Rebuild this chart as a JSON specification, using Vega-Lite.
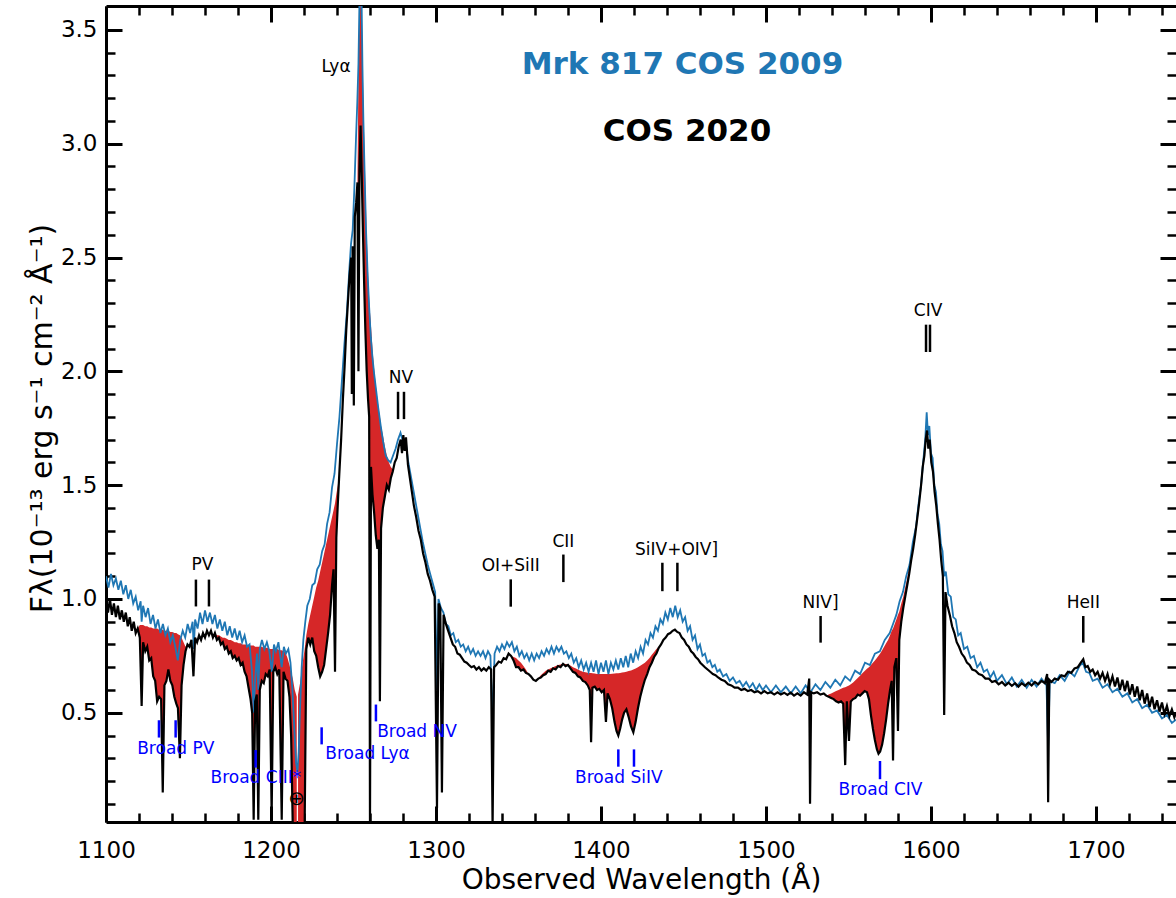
{
"$schema": "https://vega.github.io/schema/vega-lite/v6.json",
"width": 1070, "height": 816,
"autosize": {"type": "none"},
"padding": {"left": 106, "top": 6, "right": 0, "bottom": 76},
"config": {"view": {"stroke": null}, "font": "DejaVu Sans", "axis": {"grid": false, "zindex": 1, "labelFlush": false, "labelOverlap": false}},
"resolve": {"axis": {"x": "independent", "y": "independent"}},
"datasets": {
"blue": [
{"w":1100,"f":1.10},{"w":1101.5,"f":1.05},{"w":1103,"f":1.11},{"w":1104.5,"f":1.06},{"w":1106,"f":1.09},{"w":1107.5,"f":1.04},{"w":1109,"f":1.08},{"w":1110.5,"f":1.02},{"w":1112,"f":1.06},{"w":1113.5,"f":1.00},{"w":1115,"f":1.04},{"w":1116.5,"f":0.98},{"w":1118,"f":1.01},{"w":1119.5,"f":0.95},{"w":1121,"f":0.99},{"w":1121.6,"f":0.90},{"w":1122.5,"f":0.97},{"w":1124,"f":0.92},{"w":1125.5,"f":0.96},{"w":1127,"f":0.89},{"w":1128.5,"f":0.93},{"w":1130,"f":0.87},{"w":1131.5,"f":0.91},{"w":1133,"f":0.85},{"w":1134.5,"f":0.89},{"w":1136,"f":0.84},{"w":1137.5,"f":0.87},{"w":1139,"f":0.81},{"w":1140.5,"f":0.84},{"w":1142,"f":0.79},{"w":1143.5,"f":0.73},{"w":1145,"f":0.82},{"w":1146.5,"f":0.86},{"w":1148,"f":0.83},{"w":1149.5,"f":0.89},{"w":1151,"f":0.85},{"w":1152.5,"f":0.90},{"w":1153.2,"f":0.78},{"w":1154,"f":0.91},{"w":1155.5,"f":0.87},{"w":1157,"f":0.94},{"w":1158.5,"f":0.89},{"w":1160,"f":0.95},{"w":1161.5,"f":0.90},{"w":1163,"f":0.94},{"w":1164.5,"f":0.89},{"w":1166,"f":0.93},{"w":1167.5,"f":0.87},{"w":1169,"f":0.91},{"w":1170.5,"f":0.86},{"w":1172,"f":0.90},{"w":1173.5,"f":0.84},{"w":1175,"f":0.88},{"w":1176.5,"f":0.83},{"w":1178,"f":0.87},{"w":1179.5,"f":0.82},{"w":1181,"f":0.86},{"w":1182.5,"f":0.81},{"w":1184,"f":0.84},{"w":1185.5,"f":0.79},{"w":1187,"f":0.80},{"w":1188.5,"f":0.68},{"w":1189.5,"f":0.50},{"w":1190.5,"f":0.66},{"w":1191.5,"f":0.76},{"w":1192.3,"f":0.60},{"w":1193.2,"f":0.78},{"w":1194.5,"f":0.82},{"w":1196,"f":0.78},{"w":1197.5,"f":0.81},{"w":1199,"f":0.77},{"w":1200.5,"f":0.68},{"w":1201.8,"f":0.80},{"w":1203,"f":0.77},{"w":1204.5,"f":0.81},{"w":1206.5,"f":0.70},{"w":1207.8,"f":0.79},{"w":1209,"f":0.76},{"w":1210.5,"f":0.78},{"w":1211.8,"f":0.72},{"w":1213,"f":0.60},{"w":1214.2,"f":0.42},{"w":1215.2,"f":0.28},{"w":1216,"f":0.24},{"w":1216.8,"f":0.33},{"w":1217.6,"f":0.52},{"w":1218.6,"f":0.70},{"w":1219.6,"f":0.82},{"w":1220.8,"f":0.90},{"w":1222,"f":0.97},{"w":1223.5,"f":1.00},{"w":1225,"f":1.06},{"w":1226.5,"f":1.07},{"w":1228,"f":1.13},{"w":1229.5,"f":1.15},{"w":1231,"f":1.21},{"w":1232.5,"f":1.24},{"w":1234,"f":1.33},{"w":1235.5,"f":1.38},{"w":1237,"f":1.49},{"w":1238.5,"f":1.55},{"w":1240,"f":1.68},{"w":1241.5,"f":1.80},{"w":1243,"f":1.96},{"w":1244.5,"f":2.12},{"w":1246,"f":2.26},{"w":1247.5,"f":2.45},{"w":1248.5,"f":2.56},{"w":1249.5,"f":2.62},{"w":1250.5,"f":2.80},{"w":1251.5,"f":3.02},{"w":1252.3,"f":3.18},{"w":1253,"f":3.35},{"w":1253.6,"f":3.62},{"w":1254.2,"f":3.85},{"w":1254.8,"f":3.70},{"w":1255.4,"f":3.35},{"w":1256,"f":3.10},{"w":1256.8,"f":2.85},{"w":1257.6,"f":2.62},{"w":1258.6,"f":2.42},{"w":1259.5,"f":2.28},{"w":1260.5,"f":2.15},{"w":1261.5,"f":2.06},{"w":1262.5,"f":1.99},{"w":1263.5,"f":1.93},{"w":1265,"f":1.84},{"w":1266.5,"f":1.76},{"w":1268,"f":1.69},{"w":1269.5,"f":1.63},{"w":1271,"f":1.61},{"w":1272.5,"f":1.60},{"w":1274,"f":1.63},{"w":1275.5,"f":1.66},{"w":1277,"f":1.70},{"w":1278.5,"f":1.73},{"w":1280,"f":1.69},{"w":1281.5,"f":1.70},{"w":1283,"f":1.61},{"w":1284.5,"f":1.55},{"w":1286,"f":1.49},{"w":1287.5,"f":1.43},{"w":1289,"f":1.37},{"w":1290.5,"f":1.31},{"w":1292,"f":1.25},{"w":1293.5,"f":1.20},{"w":1295,"f":1.15},{"w":1296.5,"f":1.11},{"w":1298,"f":1.07},{"w":1299.5,"f":1.03},{"w":1300.6,"f":0.60},{"w":1301.5,"f":1.00},{"w":1303,"f":0.96},{"w":1304.5,"f":0.94},{"w":1306,"f":0.89},{"w":1307.5,"f":0.88},{"w":1309,"f":0.84},{"w":1310.5,"f":0.85},{"w":1312,"f":0.81},{"w":1313.5,"f":0.82},{"w":1315,"f":0.79},{"w":1316.5,"f":0.80},{"w":1318,"f":0.77},{"w":1319.5,"f":0.79},{"w":1321,"f":0.76},{"w":1322.5,"f":0.78},{"w":1324,"f":0.75},{"w":1325.5,"f":0.77},{"w":1327,"f":0.75},{"w":1328.5,"f":0.77},{"w":1330,"f":0.74},{"w":1331.5,"f":0.77},{"w":1333,"f":0.75},{"w":1334.3,"f":0.45},{"w":1335.5,"f":0.76},{"w":1337,"f":0.79},{"w":1338.5,"f":0.77},{"w":1340,"f":0.80},{"w":1341.5,"f":0.78},{"w":1343,"f":0.81},{"w":1344.5,"f":0.79},{"w":1346,"f":0.81},{"w":1347.5,"f":0.77},{"w":1349,"f":0.79},{"w":1350.5,"f":0.75},{"w":1352,"f":0.77},{"w":1353.5,"f":0.74},{"w":1355,"f":0.76},{"w":1356.5,"f":0.73},{"w":1358,"f":0.76},{"w":1359.5,"f":0.73},{"w":1361,"f":0.76},{"w":1362.5,"f":0.74},{"w":1364,"f":0.77},{"w":1365.5,"f":0.75},{"w":1367,"f":0.78},{"w":1368.5,"f":0.76},{"w":1370,"f":0.79},{"w":1371.5,"f":0.76},{"w":1373,"f":0.79},{"w":1374.5,"f":0.77},{"w":1376,"f":0.79},{"w":1377.5,"f":0.76},{"w":1379,"f":0.77},{"w":1380.5,"f":0.74},{"w":1382,"f":0.76},{"w":1383.5,"f":0.72},{"w":1385,"f":0.74},{"w":1386.5,"f":0.70},{"w":1388,"f":0.73},{"w":1389.5,"f":0.69},{"w":1391,"f":0.72},{"w":1392.5,"f":0.68},{"w":1394,"f":0.72},{"w":1395.5,"f":0.68},{"w":1397,"f":0.73},{"w":1398.5,"f":0.67},{"w":1400,"f":0.72},{"w":1401.5,"f":0.68},{"w":1403,"f":0.73},{"w":1404.5,"f":0.67},{"w":1406,"f":0.72},{"w":1407.5,"f":0.69},{"w":1409,"f":0.73},{"w":1410.5,"f":0.69},{"w":1412,"f":0.74},{"w":1413.5,"f":0.70},{"w":1415,"f":0.75},{"w":1416.5,"f":0.70},{"w":1418,"f":0.76},{"w":1419.5,"f":0.72},{"w":1421,"f":0.77},{"w":1422.5,"f":0.74},{"w":1424,"f":0.79},{"w":1425.5,"f":0.76},{"w":1427,"f":0.82},{"w":1428.5,"f":0.80},{"w":1430,"f":0.85},{"w":1431.5,"f":0.83},{"w":1433,"f":0.88},{"w":1434.5,"f":0.86},{"w":1436,"f":0.91},{"w":1437.5,"f":0.89},{"w":1439,"f":0.94},{"w":1440.5,"f":0.91},{"w":1442,"f":0.96},{"w":1443.5,"f":0.92},{"w":1445,"f":0.97},{"w":1446.5,"f":0.92},{"w":1448,"f":0.95},{"w":1449.5,"f":0.90},{"w":1451,"f":0.92},{"w":1452.5,"f":0.86},{"w":1454,"f":0.88},{"w":1455.5,"f":0.82},{"w":1457,"f":0.84},{"w":1458.5,"f":0.78},{"w":1460,"f":0.80},{"w":1461.5,"f":0.75},{"w":1463,"f":0.76},{"w":1464.5,"f":0.72},{"w":1466,"f":0.73},{"w":1467.5,"f":0.70},{"w":1469,"f":0.71},{"w":1470.5,"f":0.68},{"w":1472,"f":0.69},{"w":1474,"f":0.66},{"w":1476,"f":0.67},{"w":1478,"f":0.64},{"w":1480,"f":0.655},{"w":1482,"f":0.63},{"w":1484,"f":0.64},{"w":1486,"f":0.615},{"w":1488,"f":0.635},{"w":1490,"f":0.61},{"w":1492,"f":0.63},{"w":1494,"f":0.60},{"w":1496,"f":0.625},{"w":1498,"f":0.60},{"w":1500,"f":0.62},{"w":1503,"f":0.59},{"w":1506,"f":0.62},{"w":1509,"f":0.59},{"w":1512,"f":0.615},{"w":1515,"f":0.585},{"w":1518,"f":0.615},{"w":1521,"f":0.585},{"w":1524,"f":0.62},{"w":1527,"f":0.59},{"w":1530,"f":0.625},{"w":1533,"f":0.60},{"w":1536,"f":0.635},{"w":1539,"f":0.61},{"w":1542,"f":0.645},{"w":1545,"f":0.62},{"w":1548,"f":0.66},{"w":1551,"f":0.64},{"w":1554,"f":0.685},{"w":1557,"f":0.67},{"w":1560,"f":0.72},{"w":1563,"f":0.71},{"w":1566,"f":0.76},{"w":1569,"f":0.77},{"w":1572,"f":0.82},{"w":1575,"f":0.85},{"w":1577,"f":0.89},{"w":1579,"f":0.93},{"w":1581,"f":0.99},{"w":1583,"f":1.03},{"w":1585,"f":1.10},{"w":1587,"f":1.15},{"w":1589,"f":1.25},{"w":1591,"f":1.32},{"w":1592.5,"f":1.42},{"w":1594,"f":1.50},{"w":1595.5,"f":1.62},{"w":1596.5,"f":1.70},{"w":1597.4,"f":1.82},{"w":1598.2,"f":1.72},{"w":1599,"f":1.76},{"w":1600,"f":1.64},{"w":1601,"f":1.62},{"w":1602,"f":1.50},{"w":1603,"f":1.47},{"w":1604,"f":1.37},{"w":1605,"f":1.33},{"w":1606,"f":1.24},{"w":1607,"f":1.21},{"w":1608,"f":1.10},{"w":1609,"f":1.12},{"w":1610.5,"f":1.02},{"w":1612,"f":1.01},{"w":1613.5,"f":0.92},{"w":1615,"f":0.91},{"w":1616.5,"f":0.84},{"w":1618,"f":0.85},{"w":1620,"f":0.78},{"w":1622,"f":0.79},{"w":1624,"f":0.74},{"w":1626,"f":0.75},{"w":1628,"f":0.70},{"w":1630,"f":0.72},{"w":1632,"f":0.68},{"w":1634,"f":0.69},{"w":1636,"f":0.655},{"w":1638,"f":0.68},{"w":1640,"f":0.64},{"w":1643,"f":0.665},{"w":1646,"f":0.625},{"w":1649,"f":0.655},{"w":1652,"f":0.615},{"w":1655,"f":0.645},{"w":1658,"f":0.61},{"w":1661,"f":0.645},{"w":1664,"f":0.615},{"w":1667,"f":0.65},{"w":1670,"f":0.62},{"w":1671,"f":0.35},{"w":1672,"f":0.64},{"w":1675,"f":0.63},{"w":1678,"f":0.665},{"w":1681,"f":0.64},{"w":1684,"f":0.68},{"w":1687,"f":0.66},{"w":1690,"f":0.705},{"w":1692,"f":0.72},{"w":1694,"f":0.68},{"w":1696,"f":0.675},{"w":1698,"f":0.64},{"w":1701,"f":0.65},{"w":1704,"f":0.61},{"w":1707,"f":0.625},{"w":1710,"f":0.59},{"w":1713,"f":0.605},{"w":1716,"f":0.57},{"w":1719,"f":0.585},{"w":1722,"f":0.545},{"w":1725,"f":0.56},{"w":1728,"f":0.52},{"w":1731,"f":0.535},{"w":1734,"f":0.50},{"w":1737,"f":0.51},{"w":1740,"f":0.475},{"w":1743,"f":0.49},{"w":1746,"f":0.455},{"w":1748.5,"f":0.47}
],
"black": [
{"w":1100,"f":0.99},{"w":1101.2,"f":0.94},{"w":1102.4,"f":1.00},{"w":1103.6,"f":0.93},{"w":1104.8,"f":0.98},{"w":1106,"f":0.92},{"w":1107.2,"f":0.97},{"w":1108.4,"f":0.91},{"w":1109.6,"f":0.95},{"w":1110.8,"f":0.90},{"w":1112,"f":0.94},{"w":1113.2,"f":0.88},{"w":1114.4,"f":0.92},{"w":1115.6,"f":0.86},{"w":1116.8,"f":0.90},{"w":1118,"f":0.85},
{"w":1119.2,"f":0.87,"m":0.87,"s":1},{"w":1120.5,"f":0.83,"m":0.885,"s":1},{"w":1121.6,"f":0.53,"m":0.885,"s":1},{"w":1122.5,"f":0.81,"m":0.885,"s":1},{"w":1123.8,"f":0.77,"m":0.88,"s":1},{"w":1125,"f":0.79,"m":0.88,"s":1},{"w":1126.2,"f":0.73,"m":0.875,"s":1},{"w":1127.4,"f":0.74,"m":0.875,"s":1},{"w":1128.6,"f":0.66,"m":0.87,"s":1},{"w":1129.8,"f":0.64,"m":0.87,"s":1},{"w":1131,"f":0.55,"m":0.87,"s":1},{"w":1132.2,"f":0.57,"m":0.865,"s":1},{"w":1133.4,"f":0.56,"m":0.865,"s":1},{"w":1134.4,"f":0.15,"m":0.865,"s":1},{"w":1135.4,"f":0.62,"m":0.86,"s":1},{"w":1136.6,"f":0.64,"m":0.86,"s":1},{"w":1137.8,"f":0.69,"m":0.86,"s":1},{"w":1139,"f":0.64,"m":0.855,"s":1},{"w":1140.2,"f":0.62,"m":0.855,"s":1},{"w":1141.4,"f":0.57,"m":0.85,"s":1},{"w":1142.6,"f":0.54,"m":0.85,"s":1},{"w":1143.6,"f":0.52,"m":0.845,"s":1},{"w":1144.8,"f":0.30,"m":0.84,"s":1},{"w":1145.8,"f":0.62,"m":0.83,"s":1},{"w":1147,"f":0.71,"m":0.81,"s":1},{"w":1148.2,"f":0.77,"m":0.79,"s":1},{"w":1149.4,"f":0.80,"m":0.80,"s":1},
{"w":1150.6,"f":0.79},{"w":1151.8,"f":0.82},{"w":1153,"f":0.66},{"w":1154,"f":0.83},{"w":1155.2,"f":0.81},{"w":1156.4,"f":0.84},{"w":1157.6,"f":0.82},{"w":1158.8,"f":0.85},{"w":1160,"f":0.83},{"w":1161.2,"f":0.86},{"w":1162.4,"f":0.84},{"w":1163.6,"f":0.86},{"w":1164.8,"f":0.83},
{"w":1166,"f":0.85,"m":0.85,"s":2},{"w":1167.2,"f":0.82,"m":0.84,"s":2},{"w":1168.4,"f":0.83,"m":0.84,"s":2},{"w":1169.6,"f":0.80,"m":0.835,"s":2},{"w":1170.8,"f":0.81,"m":0.83,"s":2},{"w":1172,"f":0.78,"m":0.83,"s":2},{"w":1173.2,"f":0.79,"m":0.825,"s":2},{"w":1174.4,"f":0.76,"m":0.82,"s":2},{"w":1175.6,"f":0.77,"m":0.82,"s":2},{"w":1176.8,"f":0.74,"m":0.815,"s":2},{"w":1178,"f":0.75,"m":0.81,"s":2},{"w":1179.2,"f":0.73,"m":0.81,"s":2},{"w":1180.4,"f":0.74,"m":0.805,"s":2},{"w":1181.6,"f":0.71,"m":0.805,"s":2},{"w":1182.8,"f":0.72,"m":0.80,"s":2},{"w":1184,"f":0.68,"m":0.80,"s":2},{"w":1185.2,"f":0.66,"m":0.80,"s":2},{"w":1186.4,"f":0.61,"m":0.795,"s":2},{"w":1187.6,"f":0.56,"m":0.795,"s":2},{"w":1188.6,"f":0.50,"m":0.795,"s":2},{"w":1189.5,"f":0.03,"m":0.795,"s":2},{"w":1190.4,"f":0.55,"m":0.79,"s":2},{"w":1191.4,"f":0.58,"m":0.79,"s":2},{"w":1192.3,"f":0.03,"m":0.79,"s":2},{"w":1193.2,"f":0.60,"m":0.79,"s":2},{"w":1194.4,"f":0.64,"m":0.79,"s":2},{"w":1195.6,"f":0.63,"m":0.785,"s":2},{"w":1196.8,"f":0.67,"m":0.785,"s":2},{"w":1198,"f":0.66,"m":0.785,"s":2},{"w":1199.2,"f":0.69,"m":0.78,"s":2},{"w":1200.4,"f":0.05,"m":0.78,"s":2},{"w":1201.4,"f":0.68,"m":0.78,"s":2},{"w":1202.6,"f":0.70,"m":0.78,"s":2},{"w":1203.8,"f":0.67,"m":0.78,"s":2},{"w":1205,"f":0.69,"m":0.775,"s":2},{"w":1206.5,"f":0.03,"m":0.775,"s":2},{"w":1207.6,"f":0.68,"m":0.77,"s":2},{"w":1208.8,"f":0.65,"m":0.765,"s":2},{"w":1210,"f":0.64,"m":0.74,"s":2},{"w":1211.2,"f":0.57,"m":0.71,"s":2},{"w":1212.2,"f":0.40,"m":0.68,"s":2},{"w":1213.2,"f":0.0,"m":0.65,"s":2},{"w":1214.4,"f":0.0,"m":0.60,"s":2},{"w":1215.6,"f":0.0,"m":0.57,"s":2},
{"w":1216.4,"f":0.0,"m":0.58,"s":3},{"w":1217.6,"f":0.0,"m":0.63,"s":3},{"w":1218.8,"f":0.0,"m":0.70,"s":3},{"w":1220.4,"f":0.0,"m":0.78,"s":3},{"w":1221.4,"f":0.78,"m":0.84,"s":3},{"w":1222.6,"f":0.83,"m":0.89,"s":3},{"w":1223.8,"f":0.80,"m":0.93,"s":3},{"w":1225,"f":0.83,"m":0.97,"s":3},{"w":1226.2,"f":0.77,"m":1.01,"s":3},{"w":1227.4,"f":0.75,"m":1.05,"s":3},{"w":1228.6,"f":0.70,"m":1.08,"s":3},{"w":1229.8,"f":0.66,"m":1.12,"s":3},{"w":1231,"f":0.68,"m":1.16,"s":3},{"w":1232.2,"f":0.71,"m":1.20,"s":3},{"w":1233.4,"f":0.78,"m":1.24,"s":3},{"w":1234.6,"f":0.85,"m":1.28,"s":3},{"w":1235.8,"f":0.93,"m":1.32,"s":3},{"w":1237,"f":1.06,"m":1.36,"s":3},{"w":1237.9,"f":1.13,"m":1.39,"s":3},{"w":1238.8,"f":0.68,"m":1.42,"s":3},{"w":1239.6,"f":1.27,"m":1.46,"s":3},{"w":1240.5,"f":1.42,"m":1.50,"s":3},{"w":1241.4,"f":1.55,"m":1.55,"s":3},
{"w":1242.5,"f":1.70},{"w":1243.6,"f":1.88},{"w":1244.6,"f":2.02},{"w":1245.6,"f":2.18},{"w":1246.6,"f":2.30},{"w":1247.6,"f":2.42},{"w":1248.6,"f":2.50},{"w":1249,"f":1.90},{"w":1249.5,"f":2.55},{"w":1250.2,"f":1.85},{"w":1250.8,"f":2.68},{"w":1251.6,"f":2.74},
{"w":1252.4,"f":2.83,"m":2.83,"s":4},{"w":1253,"f":2.0,"m":3.3,"s":4},{"w":1253.6,"f":2.88,"m":3.6,"s":4},{"w":1254.3,"f":3.08,"m":3.9,"s":4},{"w":1255,"f":2.86,"m":3.6,"s":4},{"w":1255.7,"f":2.62,"m":3.3,"s":4},{"w":1256.4,"f":2.40,"m":3.05,"s":4},{"w":1257.2,"f":2.18,"m":2.82,"s":4},{"w":1258,"f":2.0,"m":2.60,"s":4},{"w":1258.8,"f":1.88,"m":2.44,"s":4},{"w":1259.5,"f":1.80,"m":2.32,"s":4},{"w":1260,"f":0.0,"m":2.26,"s":4},{"w":1260.6,"f":1.58,"m":2.20,"s":4},{"w":1261.5,"f":1.46,"m":2.10,"s":4},{"w":1262.5,"f":1.38,"m":2.01,"s":4},{"w":1263.5,"f":1.28,"m":1.94,"s":4},{"w":1264.5,"f":1.22,"m":1.88,"s":4},{"w":1265.4,"f":1.26,"m":1.83,"s":4},{"w":1266,"f":0.55,"m":1.80,"s":4},{"w":1266.7,"f":1.31,"m":1.76,"s":4},{"w":1267.8,"f":1.40,"m":1.72,"s":4},{"w":1269,"f":1.45,"m":1.67,"s":4},{"w":1270.2,"f":1.50,"m":1.63,"s":4},{"w":1271.4,"f":1.48,"m":1.60,"s":4},{"w":1272.6,"f":1.53,"m":1.58,"s":4},{"w":1273.8,"f":1.56,"m":1.57,"s":4},{"w":1275,"f":1.60,"m":1.60,"s":4},
{"w":1276.2,"f":1.62},{"w":1277.4,"f":1.67},{"w":1278.6,"f":1.70},{"w":1279.4,"f":1.64},{"w":1280.2,"f":1.72},{"w":1281,"f":1.65},{"w":1281.8,"f":1.71},{"w":1283,"f":1.59},{"w":1284.2,"f":1.53},{"w":1285.4,"f":1.47},{"w":1286.6,"f":1.41},{"w":1288,"f":1.36},{"w":1289.4,"f":1.30},{"w":1290.8,"f":1.26},{"w":1292.2,"f":1.20},{"w":1293.6,"f":1.16},{"w":1295,"f":1.11},{"w":1296.4,"f":1.08},{"w":1297.8,"f":1.04},{"w":1299.2,"f":1.01},{"w":1300.6,"f":0.08},{"w":1301.6,"f":0.98},{"w":1302.6,"f":0.96},{"w":1303.6,"f":0.15},{"w":1304.6,"f":0.93},{"w":1306,"f":0.89},{"w":1307.4,"f":0.86},{"w":1308.8,"f":0.83},{"w":1310.2,"f":0.80},{"w":1311.6,"f":0.79},{"w":1313,"f":0.76},{"w":1314.4,"f":0.755},{"w":1315.8,"f":0.74},{"w":1317.2,"f":0.725},{"w":1318.6,"f":0.72},{"w":1320,"f":0.71},{"w":1321.5,"f":0.70},{"w":1323,"f":0.705},{"w":1324.5,"f":0.69},{"w":1326,"f":0.70},{"w":1327.5,"f":0.685},{"w":1329,"f":0.695},{"w":1330.5,"f":0.685},{"w":1332,"f":0.70},{"w":1333.4,"f":0.69},{"w":1334.3,"f":0.0},{"w":1335.2,"f":0.70},{"w":1336.5,"f":0.71},{"w":1338,"f":0.725},{"w":1339.5,"f":0.72},{"w":1341,"f":0.74},{"w":1342.5,"f":0.735},{"w":1344,"f":0.76},
{"w":1345.5,"f":0.75,"m":0.75,"s":5},{"w":1347,"f":0.73,"m":0.745,"s":5},{"w":1348.5,"f":0.70,"m":0.74,"s":5},{"w":1350,"f":0.70,"m":0.73,"s":5},{"w":1351.5,"f":0.685,"m":0.72,"s":5},{"w":1353,"f":0.69,"m":0.705,"s":5},{"w":1354.5,"f":0.675,"m":0.69,"s":5},{"w":1356,"f":0.67,"m":0.67,"s":5},
{"w":1357.5,"f":0.66},{"w":1359,"f":0.645},{"w":1360.5,"f":0.64},
{"w":1362,"f":0.65,"m":0.65,"s":6},{"w":1363.5,"f":0.655,"m":0.665,"s":6},{"w":1365,"f":0.665,"m":0.675,"s":6},{"w":1366.5,"f":0.67,"m":0.685,"s":6},{"w":1368,"f":0.685,"m":0.69,"s":6},{"w":1369.5,"f":0.68,"m":0.695,"s":6},{"w":1371,"f":0.695,"m":0.70,"s":6},{"w":1372.5,"f":0.69,"m":0.705,"s":6},{"w":1374,"f":0.705,"m":0.71,"s":6},{"w":1375.5,"f":0.70,"m":0.712,"s":6},{"w":1377,"f":0.715,"m":0.715,"s":6},{"w":1378.5,"f":0.705,"m":0.714,"s":6},{"w":1380,"f":0.71,"m":0.712,"s":6},{"w":1381.5,"f":0.695,"m":0.708,"s":6},{"w":1383,"f":0.68,"m":0.70,"s":6},{"w":1384.5,"f":0.675,"m":0.695,"s":6},{"w":1386,"f":0.66,"m":0.69,"s":6},{"w":1387.5,"f":0.655,"m":0.685,"s":6},{"w":1389,"f":0.64,"m":0.68,"s":6},{"w":1390.5,"f":0.635,"m":0.678,"s":6},{"w":1392,"f":0.62,"m":0.676,"s":6},{"w":1393.2,"f":0.60,"m":0.675,"s":6},{"w":1394,"f":0.37,"m":0.675,"s":6},{"w":1394.8,"f":0.61,"m":0.674,"s":6},{"w":1396.2,"f":0.615,"m":0.672,"s":6},{"w":1397.6,"f":0.60,"m":0.67,"s":6},{"w":1399,"f":0.605,"m":0.67,"s":6},{"w":1400.4,"f":0.59,"m":0.67,"s":6},{"w":1401.8,"f":0.60,"m":0.67,"s":6},{"w":1403,"f":0.46,"m":0.67,"s":6},{"w":1404,"f":0.585,"m":0.67,"s":6},{"w":1405.4,"f":0.56,"m":0.67,"s":6},{"w":1406.8,"f":0.52,"m":0.671,"s":6},{"w":1408.2,"f":0.46,"m":0.672,"s":6},{"w":1409.4,"f":0.42,"m":0.673,"s":6},{"w":1410.5,"f":0.40,"m":0.674,"s":6},{"w":1411.6,"f":0.43,"m":0.675,"s":6},{"w":1412.8,"f":0.47,"m":0.677,"s":6},{"w":1414,"f":0.50,"m":0.678,"s":6},{"w":1415.4,"f":0.515,"m":0.68,"s":6},{"w":1416.8,"f":0.48,"m":0.683,"s":6},{"w":1418.2,"f":0.44,"m":0.686,"s":6},{"w":1419.6,"f":0.414,"m":0.69,"s":6},{"w":1421,"f":0.46,"m":0.694,"s":6},{"w":1422.4,"f":0.52,"m":0.70,"s":6},{"w":1423.8,"f":0.57,"m":0.706,"s":6},{"w":1425.2,"f":0.61,"m":0.713,"s":6},{"w":1426.6,"f":0.645,"m":0.72,"s":6},{"w":1428,"f":0.67,"m":0.73,"s":6},{"w":1429.4,"f":0.70,"m":0.74,"s":6},{"w":1430.8,"f":0.72,"m":0.755,"s":6},{"w":1432.2,"f":0.745,"m":0.767,"s":6},{"w":1433.6,"f":0.76,"m":0.78,"s":6},{"w":1435,"f":0.785,"m":0.79,"s":6},{"w":1436.4,"f":0.80,"m":0.80,"s":6},
{"w":1437.8,"f":0.82},{"w":1439.2,"f":0.83},{"w":1440.6,"f":0.845},{"w":1442,"f":0.85},{"w":1443.4,"f":0.86},{"w":1444.8,"f":0.865},{"w":1446.2,"f":0.855},{"w":1447.6,"f":0.85},{"w":1449,"f":0.83},{"w":1450.4,"f":0.82},{"w":1451.8,"f":0.80},{"w":1453.2,"f":0.79},{"w":1454.6,"f":0.77},{"w":1456,"f":0.76},{"w":1457.4,"f":0.745},{"w":1458.8,"f":0.735},{"w":1460.2,"f":0.72},{"w":1461.6,"f":0.71},{"w":1463,"f":0.70},{"w":1464.6,"f":0.69},{"w":1466.2,"f":0.68},{"w":1467.8,"f":0.67},{"w":1469.4,"f":0.665},{"w":1471,"f":0.655},{"w":1473,"f":0.645},{"w":1475,"f":0.64},{"w":1477,"f":0.625},{"w":1479,"f":0.62},{"w":1481,"f":0.61},{"w":1483,"f":0.61},{"w":1485,"f":0.60},{"w":1487,"f":0.605},{"w":1489,"f":0.595},{"w":1491,"f":0.60},{"w":1493,"f":0.59},{"w":1495,"f":0.595},{"w":1497,"f":0.585},{"w":1499,"f":0.595},{"w":1501,"f":0.585},{"w":1503,"f":0.59},{"w":1505,"f":0.58},{"w":1507,"f":0.59},{"w":1509,"f":0.58},{"w":1511,"f":0.588},{"w":1513,"f":0.578},{"w":1515,"f":0.588},{"w":1517,"f":0.575},{"w":1519,"f":0.585},{"w":1521,"f":0.575},{"w":1523,"f":0.59},{"w":1525,"f":0.58},{"w":1526.2,"f":0.65},{"w":1526.7,"f":0.10},{"w":1527.4,"f":0.59},{"w":1529,"f":0.585},{"w":1531,"f":0.59},{"w":1533,"f":0.58},{"w":1535,"f":0.585},
{"w":1536.5,"f":0.575,"m":0.575,"s":7},{"w":1538,"f":0.57,"m":0.58,"s":7},{"w":1539.5,"f":0.565,"m":0.585,"s":7},{"w":1541,"f":0.56,"m":0.59,"s":7},{"w":1542.5,"f":0.55,"m":0.595,"s":7},{"w":1544,"f":0.545,"m":0.60,"s":7},{"w":1545.5,"f":0.55,"m":0.605,"s":7},{"w":1546.8,"f":0.54,"m":0.61,"s":7},{"w":1548,"f":0.27,"m":0.612,"s":7},{"w":1549,"f":0.55,"m":0.615,"s":7},{"w":1550.3,"f":0.376,"m":0.62,"s":7},{"w":1551.4,"f":0.55,"m":0.625,"s":7},{"w":1552.8,"f":0.56,"m":0.633,"s":7},{"w":1554.2,"f":0.565,"m":0.643,"s":7},{"w":1555.6,"f":0.58,"m":0.653,"s":7},{"w":1557,"f":0.575,"m":0.663,"s":7},{"w":1558.4,"f":0.585,"m":0.673,"s":7},{"w":1559.8,"f":0.595,"m":0.683,"s":7},{"w":1561.2,"f":0.59,"m":0.693,"s":7},{"w":1562.4,"f":0.56,"m":0.70,"s":7},{"w":1563.6,"f":0.49,"m":0.71,"s":7},{"w":1564.8,"f":0.43,"m":0.72,"s":7},{"w":1566,"f":0.38,"m":0.73,"s":7},{"w":1567.2,"f":0.34,"m":0.74,"s":7},{"w":1568.2,"f":0.32,"m":0.75,"s":7},{"w":1569.2,"f":0.33,"m":0.76,"s":7},{"w":1570.4,"f":0.36,"m":0.775,"s":7},{"w":1571.6,"f":0.41,"m":0.79,"s":7},{"w":1572.8,"f":0.47,"m":0.805,"s":7},{"w":1574,"f":0.54,"m":0.82,"s":7},{"w":1575.2,"f":0.60,"m":0.84,"s":7},{"w":1576.2,"f":0.64,"m":0.86,"s":7},{"w":1577,"f":0.29,"m":0.87,"s":7},{"w":1577.8,"f":0.70,"m":0.885,"s":7},{"w":1579,"f":0.74,"m":0.91,"s":7},{"w":1580,"f":0.42,"m":0.93,"s":7},{"w":1580.8,"f":0.82,"m":0.945,"s":7},{"w":1582,"f":0.90,"m":0.98,"s":7},{"w":1583.2,"f":0.96,"m":1.01,"s":7},{"w":1584.4,"f":1.01,"m":1.05,"s":7},{"w":1585.6,"f":1.06,"m":1.09,"s":7},{"w":1586.8,"f":1.11,"m":1.14,"s":7},{"w":1588,"f":1.17,"m":1.19,"s":7},{"w":1589.2,"f":1.22,"m":1.24,"s":7},{"w":1590.4,"f":1.28,"m":1.29,"s":7},{"w":1591.6,"f":1.35,"m":1.35,"s":7},
{"w":1592.8,"f":1.42},{"w":1594,"f":1.50},{"w":1595,"f":1.58},{"w":1596,"f":1.63},{"w":1596.8,"f":1.70},{"w":1597.6,"f":1.74},{"w":1598.4,"f":1.66},{"w":1599.2,"f":1.70},{"w":1600.2,"f":1.60},{"w":1601.2,"f":1.56},{"w":1602.2,"f":1.47},{"w":1603.2,"f":1.41},{"w":1604.2,"f":1.33},{"w":1605.2,"f":1.26},{"w":1606.2,"f":1.17},{"w":1607.2,"f":1.10},{"w":1608,"f":0.49},{"w":1608.8,"f":1.03},{"w":1610,"f":0.97},{"w":1611.4,"f":0.93},{"w":1612.8,"f":0.88},{"w":1614.2,"f":0.85},{"w":1615.6,"f":0.81},{"w":1617,"f":0.79},{"w":1618.6,"f":0.76},{"w":1620.2,"f":0.745},{"w":1621.8,"f":0.72},{"w":1623.4,"f":0.71},{"w":1625,"f":0.69},{"w":1627,"f":0.685},{"w":1629,"f":0.67},{"w":1631,"f":0.665},{"w":1633,"f":0.65},{"w":1635,"f":0.65},{"w":1637,"f":0.635},{"w":1639,"f":0.64},{"w":1641,"f":0.625},{"w":1643,"f":0.635},{"w":1645,"f":0.62},{"w":1647,"f":0.632},{"w":1649,"f":0.618},{"w":1651,"f":0.63},{"w":1653,"f":0.615},{"w":1655,"f":0.63},{"w":1657,"f":0.618},{"w":1659,"f":0.632},{"w":1661,"f":0.62},{"w":1663,"f":0.635},{"w":1665,"f":0.625},{"w":1667,"f":0.64},{"w":1669,"f":0.63},{"w":1670.4,"f":0.67},{"w":1671,"f":0.107},{"w":1671.7,"f":0.645},{"w":1673,"f":0.635},{"w":1675,"f":0.65},{"w":1677,"f":0.645},{"w":1679,"f":0.665},{"w":1681,"f":0.66},{"w":1683,"f":0.68},{"w":1685,"f":0.675},{"w":1687,"f":0.695},{"w":1689,"f":0.70},{"w":1690.8,"f":0.72},{"w":1692.3,"f":0.735},{"w":1693.6,"f":0.70},{"w":1695,"f":0.705},{"w":1696.5,"f":0.68},{"w":1698,"f":0.69},{"w":1699.5,"f":0.665},{"w":1701,"f":0.68},{"w":1702.5,"f":0.65},{"w":1704,"f":0.675},{"w":1705.5,"f":0.64},{"w":1707,"f":0.67},{"w":1708.5,"f":0.625},{"w":1710,"f":0.66},{"w":1711.5,"f":0.615},{"w":1713,"f":0.655},{"w":1714.5,"f":0.60},{"w":1716,"f":0.645},{"w":1717.5,"f":0.595},{"w":1719,"f":0.64},{"w":1720.5,"f":0.58},{"w":1722,"f":0.625},{"w":1723.5,"f":0.57},{"w":1725,"f":0.615},{"w":1726.5,"f":0.555},{"w":1728,"f":0.60},{"w":1729.5,"f":0.54},{"w":1731,"f":0.585},{"w":1732.5,"f":0.525},{"w":1734,"f":0.57},{"w":1735.5,"f":0.515},{"w":1737,"f":0.555},{"w":1738.5,"f":0.505},{"w":1740,"f":0.545},{"w":1741.5,"f":0.495},{"w":1743,"f":0.53},{"w":1744.5,"f":0.485},{"w":1746,"f":0.515},{"w":1747.5,"f":0.48},{"w":1748.5,"f":0.50}
],
"kticks": [
{"w":1154.5,"a":1.085,"b":0.967},{"w":1162.4,"a":1.085,"b":0.967},
{"w":1277.0,"a":1.91,"b":1.79},{"w":1280.6,"a":1.91,"b":1.79},
{"w":1345.3,"a":1.086,"b":0.966},
{"w":1377.2,"a":1.195,"b":1.074},
{"w":1437.2,"a":1.159,"b":1.034},{"w":1446.3,"a":1.159,"b":1.034},
{"w":1533.1,"a":0.925,"b":0.808},
{"w":1597.0,"a":2.205,"b":2.085},{"w":1599.4,"a":2.205,"b":2.085},
{"w":1692.3,"a":0.925,"b":0.808}
],
"uticks": [
{"w":1132.1,"a":0.467,"b":0.391},{"w":1142.2,"a":0.467,"b":0.391},
{"w":1190.7,"a":0.336,"b":0.259},
{"w":1230.7,"a":0.436,"b":0.361},
{"w":1263.6,"a":0.536,"b":0.462},
{"w":1410.5,"a":0.339,"b":0.263},{"w":1420.0,"a":0.339,"b":0.263},
{"w":1569.1,"a":0.288,"b":0.208}
],
"klabels": [
{"w":1158.5,"f":1.147,"t":"PV"},
{"w":1239.4,"f":3.339,"t":"Lyα"},
{"w":1278.8,"f":1.97,"t":"NV"},
{"w":1345.3,"f":1.144,"t":"OI+SiII"},
{"w":1377.2,"f":1.249,"t":"CII"},
{"w":1445.8,"f":1.214,"t":"SiIV+OIV]"},
{"w":1533.1,"f":0.98,"t":"NIV]"},
{"w":1598.2,"f":2.263,"t":"CIV"},
{"w":1692.3,"f":0.98,"t":"HeII"}
],
"earth": [
{"w":1215.6,"f":0.123,"t":"⊕"}
],
"ulabels": [
{"w":1142.3,"f":0.342,"t":"Broad PV"},
{"w":1190.8,"f":0.212,"t":"Broad CIII*"},
{"w":1258.5,"f":0.317,"t":"Broad Lyα"},
{"w":1288.5,"f":0.414,"t":"Broad NV"},
{"w":1410.8,"f":0.215,"t":"Broad SiIV"},
{"w":1569.4,"f":0.161,"t":"Broad CIV"}
],
"titles": [
{"w":1449.4,"f":3.346,"t":"Mrk 817 COS 2009","c":"2009"},
{"w":1452.1,"f":3.052,"t":"COS 2020","c":"2020"}
]
},
"layer": [
{
"data": {"name": "black"},
"transform": [{"filter": "isValid(datum.m)"}],
"mark": {"type": "area", "color": "#d62728", "clip": true, "opacity": 1},
"encoding": {
"x": {"field": "w", "type": "quantitative", "scale": {"domain": [1100, 1748.5], "nice": false, "zero": false},
 "axis": {"orient": "bottom", "values": [1100,1200,1300,1400,1500,1600,1700], "format": "d", "ticks": false, "domain": true, "domainWidth": 3, "domainColor": "black", "labelFontSize": 23, "labelPadding": 17, "labelColor": "black", "labelFont": "DejaVu Sans", "title": "Observed Wavelength (Å)", "titleFont": "DejaVu Sans", "titleFontSize": 28, "titleFontWeight": "normal", "titleColor": "black", "titleX": 535, "titleY": 58, "titleBaseline": "middle", "titleAlign": "center"}},
"y": {"field": "f", "type": "quantitative", "scale": {"domain": [0.02, 3.605], "nice": false, "zero": false},
 "axis": {"orient": "left", "values": [0.5,1.0,1.5,2.0,2.5,3.0,3.5], "format": ".1f", "ticks": false, "domain": true, "domainWidth": 3, "domainColor": "black", "labelFontSize": 23, "labelPadding": 9, "labelColor": "black", "labelFont": "DejaVu Sans", "title": "Fλ(10⁻¹³ erg s⁻¹ cm⁻² Å⁻¹)", "titleFont": "DejaVu Sans", "titleFontSize": 30, "titleFontWeight": "normal", "titleColor": "black", "titleX": -64, "titleY": 412, "titleBaseline": "middle", "titleAlign": "center", "titleAngle": -90}},
"y2": {"field": "m"},
"detail": {"field": "s", "type": "nominal"}
}
},
{
"data": {"name": "blue"},
"mark": {"type": "line", "color": "#1f77b4", "strokeWidth": 1.8, "clip": true},
"encoding": {
"x": {"field": "w", "type": "quantitative", "scale": {"domain": [1100, 1748.5], "nice": false, "zero": false},
 "axis": {"orient": "bottom", "values": [1100,1200,1300,1400,1500,1600,1700], "labels": false, "domain": false, "tickSize": 16, "tickWidth": 3, "tickColor": "black", "offset": -16, "title": null}},
"y": {"field": "f", "type": "quantitative", "scale": {"domain": [0.02, 3.605], "nice": false, "zero": false},
 "axis": {"orient": "left", "values": [0.5,1.0,1.5,2.0,2.5,3.0,3.5], "labels": false, "domain": false, "tickSize": 16, "tickWidth": 3, "tickColor": "black", "offset": -16, "title": null}}
}
},
{
"data": {"name": "black"},
"mark": {"type": "line", "color": "black", "strokeWidth": 2.2, "clip": true},
"encoding": {
"x": {"field": "w", "type": "quantitative", "scale": {"domain": [1100, 1748.5], "nice": false, "zero": false},
 "axis": {"orient": "bottom", "values": [1120,1140,1160,1180,1220,1240,1260,1280,1320,1340,1360,1380,1420,1440,1460,1480,1520,1540,1560,1580,1620,1640,1660,1680,1720,1740], "labels": false, "domain": false, "tickSize": 9, "tickWidth": 2.5, "tickColor": "black", "offset": -9, "title": null}},
"y": {"field": "f", "type": "quantitative", "scale": {"domain": [0.02, 3.605], "nice": false, "zero": false},
 "axis": {"orient": "left", "values": [0.1,0.2,0.3,0.4,0.6,0.7,0.8,0.9,1.1,1.2,1.3,1.4,1.6,1.7,1.8,1.9,2.1,2.2,2.3,2.4,2.6,2.7,2.8,2.9,3.1,3.2,3.3,3.4], "labels": false, "domain": false, "tickSize": 9, "tickWidth": 2.5, "tickColor": "black", "offset": -9, "title": null}}
}
},
{
"data": {"name": "kticks"},
"mark": {"type": "rule", "color": "black", "strokeWidth": 2.5},
"encoding": {
"x": {"field": "w", "type": "quantitative", "scale": {"domain": [1100, 1748.5], "nice": false, "zero": false},
 "axis": {"orient": "top", "labels": false, "ticks": false, "domain": true, "domainWidth": 3, "domainColor": "black", "title": null}},
"y": {"field": "a", "type": "quantitative", "scale": {"domain": [0.02, 3.605], "nice": false, "zero": false},
 "axis": {"orient": "right", "values": [0.5,1.0,1.5,2.0,2.5,3.0,3.5], "labels": false, "domain": false, "tickSize": 16, "tickWidth": 3, "tickColor": "black", "offset": -16, "title": null}},
"y2": {"field": "b"}
}
},
{
"data": {"name": "uticks"},
"mark": {"type": "rule", "color": "blue", "strokeWidth": 2.5},
"encoding": {
"x": {"field": "w", "type": "quantitative", "scale": {"domain": [1100, 1748.5], "nice": false, "zero": false},
 "axis": {"orient": "top", "values": [1100,1200,1300,1400,1500,1600,1700], "labels": false, "domain": false, "tickSize": 16, "tickWidth": 3, "tickColor": "black", "offset": -16, "title": null}},
"y": {"field": "a", "type": "quantitative", "scale": {"domain": [0.02, 3.605], "nice": false, "zero": false},
 "axis": {"orient": "right", "values": [0.1,0.2,0.3,0.4,0.6,0.7,0.8,0.9,1.1,1.2,1.3,1.4,1.6,1.7,1.8,1.9,2.1,2.2,2.3,2.4,2.6,2.7,2.8,2.9,3.1,3.2,3.3,3.4], "labels": false, "domain": false, "tickSize": 9, "tickWidth": 2.5, "tickColor": "black", "offset": -9, "title": null}},
"y2": {"field": "b"}
}
},
{
"data": {"name": "klabels"},
"mark": {"type": "text", "color": "black", "fontSize": 17, "font": "DejaVu Sans", "align": "center", "baseline": "middle"},
"encoding": {
"x": {"field": "w", "type": "quantitative", "scale": {"domain": [1100, 1748.5], "nice": false, "zero": false},
 "axis": {"orient": "top", "values": [1120,1140,1160,1180,1220,1240,1260,1280,1320,1340,1360,1380,1420,1440,1460,1480,1520,1540,1560,1580,1620,1640,1660,1680,1720,1740], "labels": false, "domain": false, "tickSize": 9, "tickWidth": 2.5, "tickColor": "black", "offset": -9, "title": null}},
"y": {"field": "f", "type": "quantitative", "scale": {"domain": [0.02, 3.605], "nice": false, "zero": false}, "axis": null},
"text": {"field": "t"}
}
},
{
"data": {"name": "earth"},
"mark": {"type": "text", "color": "black", "fontSize": 20, "font": "DejaVu Sans", "align": "center", "baseline": "middle"},
"encoding": {
"x": {"field": "w", "type": "quantitative", "scale": {"domain": [1100, 1748.5], "nice": false, "zero": false}, "axis": null},
"y": {"field": "f", "type": "quantitative", "scale": {"domain": [0.02, 3.605], "nice": false, "zero": false}, "axis": null},
"text": {"field": "t"}
}
},
{
"data": {"name": "ulabels"},
"mark": {"type": "text", "color": "blue", "fontSize": 17, "font": "DejaVu Sans", "align": "center", "baseline": "middle"},
"encoding": {
"x": {"field": "w", "type": "quantitative", "scale": {"domain": [1100, 1748.5], "nice": false, "zero": false}, "axis": null},
"y": {"field": "f", "type": "quantitative", "scale": {"domain": [0.02, 3.605], "nice": false, "zero": false}, "axis": null},
"text": {"field": "t"}
}
},
{
"data": {"name": "titles"},
"mark": {"type": "text", "fontSize": 31, "fontWeight": "bold", "font": "DejaVu Sans", "align": "center", "baseline": "middle"},
"encoding": {
"x": {"field": "w", "type": "quantitative", "scale": {"domain": [1100, 1748.5], "nice": false, "zero": false}, "axis": null},
"y": {"field": "f", "type": "quantitative", "scale": {"domain": [0.02, 3.605], "nice": false, "zero": false}, "axis": null},
"text": {"field": "t"},
"color": {"field": "c", "type": "nominal", "scale": {"domain": ["2009", "2020"], "range": ["#1f77b4", "black"]}, "legend": null}
}
}
]
}
